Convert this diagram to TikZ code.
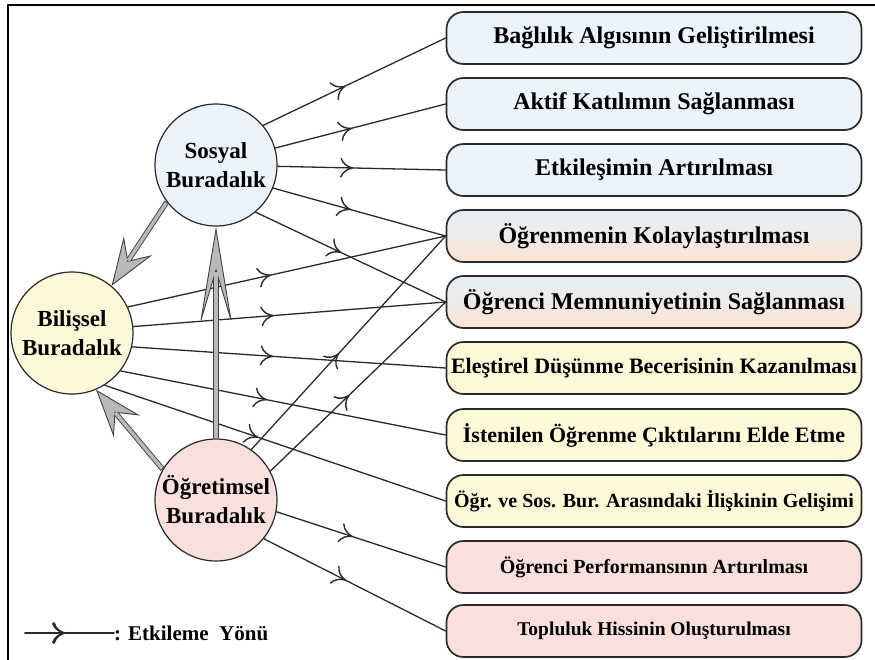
\documentclass[tikz,border=0pt]{standalone}
\usepackage{fontspec}
\setmainfont{Liberation Serif}
\usetikzlibrary{arrows.meta,decorations.markings}
\definecolor{mavi}{HTML}{EAF4FA}
\definecolor{sari}{HTML}{FCF9D8}
\definecolor{pembe}{HTML}{F9E0DC}
\definecolor{gecisust}{HTML}{E4F0F7}
\definecolor{gecisalt}{HTML}{FBE4D4}
\definecolor{cizgi}{HTML}{2A2A2A}
\tikzset{
  daire/.style={circle,draw=cizgi,line width=1.2pt,minimum size=122pt,inner sep=0pt,align=center,font=\fontsize{23}{29}\selectfont\bfseries},
  kutu/.style={rectangle,rounded corners=17pt,draw=cizgi,line width=1.7pt,minimum width=415pt,minimum height=52pt,inner sep=0pt},
  gecis/.style={top color=gecisust,middle color=sari,bottom color=gecisalt},
  etki/.style={draw=cizgi,line width=1.3pt,decoration={markings,mark=at position 0.45 with {\arrow{>}}},postaction={decorate}},
  buyuk/.style={draw=black!75,line width=5.2pt,line cap=butt,-{Stealth[length=48pt,width=34pt,inset=18pt,fill=gray!55,line width=0.9pt]},
    postaction={draw=gray!55,line width=3.4pt,-,shorten >=#1,shorten <=0.9pt}},
  buyuk/.default=30pt
}
\newcommand{\yazi}[1]{\fontsize{#1}{#1}\selectfont\bfseries}
\begin{document}
\begin{tikzpicture}[x=1pt,y=-1pt,line cap=round,line join=round,>={Computer Modern Rightarrow[length=13pt,width=20pt,line width=1.4pt]}]
\clip (0,0) rectangle (875,659);
\draw[line width=1.6pt] (8,665) -- (8,5) -- (880,5);
\node[daire,fill=mavi] (sos) at (216,165) {Sosyal\\Buradalık};
\node[daire,fill=sari] (bil) at (72,333) {Bilişsel\\Buradalık};
\node[daire,fill=pembe] (og) at (216,500) {Öğretimsel\\Buradalık};
\node[kutu,fill=mavi,font=\yazi{24}] (b1) at (654,38) {Bağlılık Algısının Geliştirilmesi};
\node[kutu,fill=mavi,font=\yazi{24}] (b2) at (654,104) {Aktif Katılımın Sağlanması};
\node[kutu,fill=mavi,font=\yazi{24}] (b3) at (654,170) {Etkileşimin Artırılması};
\node[kutu,gecis,font=\yazi{24}] (b4) at (654,236) {Öğrenmenin Kolaylaştırılması};
\node[kutu,gecis,font=\yazi{24}] (b5) at (654,302) {Öğrenci Memnuniyetinin Sağlanması};
\node[kutu,fill=sari,font=\yazi{22}] (b6) at (654,368) {Eleştirel Düşünme Becerisinin Kazanılması};
\node[kutu,fill=sari,font=\yazi{22}] (b7) at (654,435) {İstenilen Öğrenme Çıktılarını Elde Etme};
\node[kutu,fill=sari,font=\yazi{20}] (b8) at (654,501) {Öğr. ve Sos. Bur. Arasındaki İlişkinin Gelişimi};
\node[kutu,fill=pembe,font=\yazi{20}] (b9) at (654,567) {Öğrenci Performansının Artırılması};
\node[kutu,fill=pembe,font=\yazi{19.5}] (b10) at (654,631) {Topluluk Hissinin Oluşturulması};
\draw[etki] (sos.40) -- (b1.west);
\draw[etki] (sos.16) -- (b2.west);
\draw[etki] (sos) -- (b3.west);
\draw[etki] (sos.-22) -- (b4.west);
\draw[etki] (sos.-50) -- (b5.west);
\draw[etki] (bil.25) -- (b4.west);
\draw[etki] (bil.6) -- (b5.west);
\draw[etki] (bil.-13) -- (b6.west);
\draw[etki] (bil.-38) -- (b7.west);
\draw[etki] (bil.-58) -- (b8.west);
\draw[etki] (og.55) -- (b4.west);
\draw[etki] (og.28) -- (b5.west);
\draw[etki] (og.-11) -- (b9.west);
\draw[etki] (og.-39) -- (b10.west);
\draw[buyuk] (sos.217) -- (bil.50);
\draw[buyuk] (og.150) -- (bil.-67);
\draw[buyuk=45pt,-{Stealth[length=100pt,width=33pt,inset=55pt,fill=gray!55,line width=0.9pt]}] (og.90) -- (sos.-90);
\coordinate (l1) at (25,633);
\coordinate (l2) at (114,633);
\draw[etki,line width=1.8pt,decoration={markings,mark=at position 0.45 with {\arrow{Computer Modern Rightarrow[length=12pt,width=22pt,line width=1.8pt]}}}] (l1) -- (l2);
\node[anchor=west,inner sep=0pt,font=\yazi{21}] (leg) at (l2) {: Etkileme\ \ Yönü};
\end{tikzpicture}
\end{document}
